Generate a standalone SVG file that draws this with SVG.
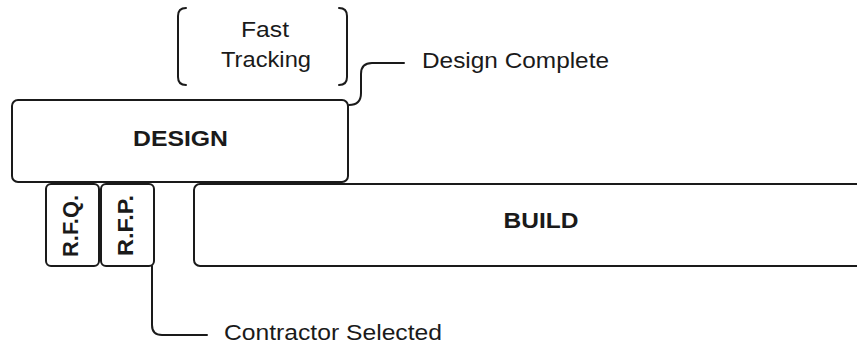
<svg xmlns="http://www.w3.org/2000/svg" width="857" height="347" viewBox="0 0 857 347">
  <style>
    .box { fill: #ffffff; stroke: #1a1a1a; stroke-width: 2; }
    .line { fill: none; stroke: #1a1a1a; stroke-width: 2; stroke-linejoin: round; stroke-linecap: round; }
    .label { font-family: "Liberation Sans", Arial, sans-serif; font-size: 22.5px; fill: #1a1a1a; }
    .bold { font-weight: bold; }
  </style>
  <rect width="857" height="347" fill="#ffffff"/>

  <!-- Fast tracking annotation: a pair of square brackets around the label -->
  <g id="fast-tracking">
    <path class="line" d="M186,8 Q178,8 178,16 L178,77 Q178,85 186,85"/>
    <path class="line" d="M339,8 Q347,8 347,16 L347,77 Q347,85 339,85"/>
    <text class="label" x="265" y="37" text-anchor="middle" textLength="48" lengthAdjust="spacingAndGlyphs">Fast</text>
    <text class="label" x="266" y="67" text-anchor="middle" textLength="90" lengthAdjust="spacingAndGlyphs">Tracking</text>
  </g>

  <g id="design">
    <rect class="box" x="12" y="100" width="336" height="82" rx="6"/>
    <text class="label bold" x="180.5" y="146" text-anchor="middle" textLength="95" lengthAdjust="spacingAndGlyphs">DESIGN</text>
  </g>

  <g id="rfq">
    <rect class="box" x="46" y="184" width="53" height="82" rx="5"/>
    <text class="label bold" transform="translate(78,226) rotate(-90)" text-anchor="middle" textLength="62" lengthAdjust="spacingAndGlyphs">R.F.Q.</text>
  </g>

  <g id="rfp">
    <rect class="box" x="101" y="184" width="53" height="82" rx="5"/>
    <text class="label bold" transform="translate(133,225.5) rotate(-90)" text-anchor="middle" textLength="61" lengthAdjust="spacingAndGlyphs">R.F.P.</text>
  </g>

  <g id="build">
    <rect class="box" x="194" y="184" width="700" height="82" rx="6"/>
    <text class="label bold" x="541" y="228" text-anchor="middle" textLength="75" lengthAdjust="spacingAndGlyphs">BUILD</text>
  </g>

  <g id="connectors">
    <!-- milestone leader from the end of design -->
    <path class="line" d="M349,105 Q361,105 361,93 L361,74 Q361,63 372,63 L404,63"/>
    <!-- milestone leader from the end of tendering -->
    <path class="line" d="M152,266 L152,325 Q152,335 162,335 L207,335"/>
  </g>

  <g id="milestones">
    <text class="label" x="422" y="68" textLength="187" lengthAdjust="spacingAndGlyphs">Design Complete</text>
    <text class="label" x="224" y="340" textLength="218" lengthAdjust="spacingAndGlyphs">Contractor Selected</text>
  </g>
</svg>
